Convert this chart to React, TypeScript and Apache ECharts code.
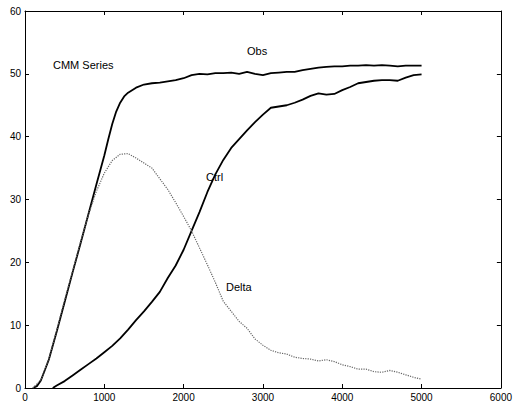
import React, { useEffect, useRef } from "react";
import * as echarts from "echarts";

const xTicks = [0, 1000, 2000, 3000, 4000, 5000, 6000];
const yTicks = [0, 10, 20, 30, 40, 50, 60];

const obsX = [100, 150, 200, 300, 400, 500, 600, 700, 800, 900, 1000, 1050, 1100, 1150, 1200, 1250, 1300, 1400, 1500, 1600, 1700, 1800, 1900, 2000, 2100, 2200, 2300, 2400, 2500, 2600, 2700, 2800, 2900, 3000, 3100, 3200, 3300, 3400, 3500, 3600, 3700, 3800, 3900, 4000, 4100, 4200, 4300, 4400, 4500, 4600, 4700, 4800, 4900, 5000];
const obsY = [0, 0.3, 1.2, 4.5, 9, 13.7, 18.4, 23, 27.7, 32.4, 37, 39.6, 42, 44, 45.4, 46.4, 47, 47.8, 48.3, 48.5, 48.6, 48.8, 49, 49.3, 49.8, 50, 49.9, 50.1, 50.1, 50.2, 50, 50.3, 50, 49.8, 50.1, 50.2, 50.3, 50.3, 50.6, 50.8, 51, 51.1, 51.2, 51.2, 51.3, 51.3, 51.4, 51.3, 51.4, 51.3, 51.2, 51.3, 51.3, 51.3];

const ctrlX = [350, 400, 500, 600, 700, 800, 900, 1000, 1100, 1200, 1300, 1400, 1500, 1600, 1700, 1800, 1900, 2000, 2100, 2200, 2300, 2400, 2500, 2600, 2700, 2800, 2900, 3000, 3100, 3200, 3300, 3400, 3500, 3600, 3700, 3800, 3900, 4000, 4100, 4200, 4300, 4400, 4500, 4600, 4700, 4800, 4900, 5000];
const ctrlY = [0, 0.4, 1.1, 2, 2.9, 3.8, 4.7, 5.7, 6.7, 7.9, 9.3, 10.8, 12.2, 13.7, 15.3, 17.5, 19.5, 22, 25, 28, 31.2, 34, 36.3, 38.2, 39.6, 41, 42.3, 43.5, 44.6, 44.8, 45, 45.4, 45.9, 46.5, 46.9, 46.7, 46.8, 47.4, 47.9, 48.5, 48.7, 48.9, 49, 49, 48.9, 49.4, 49.8, 49.9];

const deltaX = [100, 200, 300, 400, 500, 600, 700, 800, 900, 1000, 1100, 1200, 1300, 1400, 1500, 1600, 1700, 1800, 1900, 2000, 2100, 2200, 2300, 2400, 2500, 2600, 2700, 2800, 2900, 3000, 3100, 3200, 3300, 3400, 3500, 3600, 3700, 3800, 3900, 4000, 4100, 4200, 4300, 4400, 4500, 4600, 4700, 4800, 4900, 5000];
const deltaY = [0, 1.3, 4.6, 9.2, 14, 18.6, 23.2, 27.6, 31.3, 34.2, 36.2, 37.2, 37.3, 36.6, 35.8, 35, 33.3, 31.6, 29.5, 27.3, 25, 22.3, 19.6, 16.8, 13.8, 12.2, 10.6, 9.5, 7.8, 6.8, 6, 5.6, 5.4, 4.9, 4.7, 4.6, 4.3, 4.5, 4.2, 3.7, 3.4, 3, 3, 2.6, 2.5, 2.8, 2.5, 2.1, 1.7, 1.4];

const annotations = [
  { text: "CMM Series", x: 53, y: 65 },
  { text: "Obs", x: 247, y: 51 },
  { text: "Ctrl", x: 206, y: 177 },
  { text: "Delta", x: 226, y: 287 },
];

const pairs = (xs: number[], ys: number[]) => xs.map((x, i) => [x, ys[i]]);

export default function App() {
  const ref = useRef<HTMLDivElement>(null);
  useEffect(() => {
    document.body.style.margin = "0";
    const chart = echarts.init(ref.current!, null, { renderer: "svg" });
    const font = "Liberation Sans, Arial, Helvetica, sans-serif";
    const axisCommon = {
      axisLine: { show: true, onZero: false, lineStyle: { color: "#000", width: 1 } },
      axisTick: { show: true, inside: true, length: 4, lineStyle: { color: "#000" } },
      splitLine: { show: false },
    };
    chart.setOption({
      animation: false,
      backgroundColor: "#fff",
      grid: { left: 25, right: 10, top: 11, bottom: 13, containLabel: false },
      xAxis: [
        {
          type: "value", min: xTicks[0], max: xTicks[xTicks.length - 1], interval: 1000, position: "bottom",
          ...axisCommon,
          axisLabel: { color: "#000", fontSize: 10, fontFamily: font, margin: 4, formatter: (v: number) => String(v) },
        },
        {
          type: "value", min: xTicks[0], max: xTicks[xTicks.length - 1], interval: 1000, position: "top",
          ...axisCommon, axisLabel: { show: false },
        },
      ],
      yAxis: [
        {
          type: "value", min: yTicks[0], max: yTicks[yTicks.length - 1], interval: 10, position: "left",
          ...axisCommon,
          axisLabel: { color: "#000", fontSize: 10, fontFamily: font, margin: 4 },
        },
        {
          type: "value", min: yTicks[0], max: yTicks[yTicks.length - 1], interval: 10, position: "right",
          ...axisCommon, axisLabel: { show: false },
        },
      ],
      series: [
        {
          name: "Obs", type: "line", symbol: "none", data: pairs(obsX, obsY),
          lineStyle: { color: "#000", width: 1.8 },
        },
        {
          name: "Ctrl", type: "line", symbol: "none", data: pairs(ctrlX, ctrlY),
          lineStyle: { color: "#000", width: 1.8 },
        },
        {
          name: "Delta", type: "line", symbol: "none", data: pairs(deltaX, deltaY),
          lineStyle: { color: "#666", width: 1.2, type: "dotted" },
        },
      ],
      graphic: annotations.map((a) => ({
        type: "text", x: a.x, y: a.y,
        style: { text: a.text, fill: "#000", fontSize: 11, fontFamily: font, verticalAlign: "middle" },
      })),
    });
    return () => chart.dispose();
  }, []);
  return <div ref={ref} style={{ width: 515, height: 402 }} />;
}
